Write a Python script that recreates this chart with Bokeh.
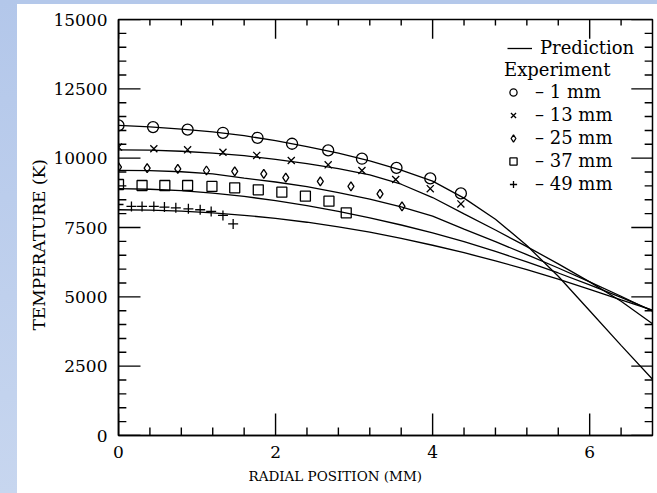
from bokeh.plotting import figure
from bokeh.models import (Range1d, FixedTicker, Legend, LegendItem, Title, Div)
from bokeh.layouts import row, column
from bokeh.embed import file_html
from bokeh.resources import INLINE

# ---- data -------------------------------------------------------------
# predicted radial temperature profiles (K) at five axial stations
pred_x = [0.0, 0.4, 0.8, 1.2, 1.6, 2.0, 2.4, 2.8, 3.2, 3.6, 4.0, 4.4, 4.8,
          5.2, 5.6, 6.0, 6.4, 6.8]
pred_1mm = [11180, 11130, 11050, 10950, 10810, 10630, 10420, 10180, 9900,
            9570, 9170, 8560, 7800, 6850, 5740, 4500, 3250, 2030]
pred_13mm = [10300, 10290, 10250, 10185, 10090, 9960, 9800, 9620, 9400,
             9060, 8580, 7990, 7410, 6810, 6190, 5540, 4840, 4030]
pred_25mm = [9560, 9550, 9510, 9430, 9280, 9140, 8970, 8760, 8520, 8240,
             7910, 7440, 6990, 6520, 6040, 5540, 5020, 4480]
pred_37mm = [8900, 8880, 8830, 8740, 8620, 8470, 8290, 8080, 7850, 7590,
             7310, 6990, 6640, 6260, 5860, 5430, 4980, 4500]
pred_49mm = [8140, 8130, 8090, 8030, 7940, 7830, 7690, 7520, 7330, 7110,
             6860, 6590, 6300, 5980, 5640, 5270, 4890, 4520]

# measured temperatures
exp1_x = [0.0, 0.44, 0.88, 1.33, 1.77, 2.21, 2.67, 3.10, 3.54, 3.97, 4.36]
exp1_t = [11180, 11120, 11030, 10915, 10735, 10520, 10280, 9980, 9650, 9270,
          8730]
exp13_x = [0.0, 0.45, 0.88, 1.33, 1.76, 2.20, 2.67, 3.10, 3.53, 3.97, 4.36]
exp13_t = [10400, 10340, 10300, 10215, 10100, 9915, 9760, 9555, 9230, 8900,
           8350]
exp25_x = [0.0, 0.365, 0.755, 1.12, 1.48, 1.85, 2.13, 2.57, 2.96, 3.33, 3.61]
exp25_t = [9675, 9640, 9615, 9555, 9520, 9435, 9295, 9160, 8980, 8715, 8260]
exp37_x = [0.0, 0.30, 0.59, 0.88, 1.19, 1.48, 1.78, 2.08, 2.38, 2.68, 2.90]
exp37_t = [9050, 9015, 9015, 9015, 8980, 8930, 8860, 8775, 8630, 8450, 8030]
exp49_x = [0.0, 0.165, 0.30, 0.45, 0.585, 0.73, 0.89, 1.04, 1.18, 1.33, 1.46]
exp49_t = [8330, 8260, 8260, 8260, 8235, 8210, 8175, 8140, 8080, 7935, 7630]

x_major = [0, 2, 4, 6]
x_minor = [0.4, 0.8, 1.2, 1.6, 2.4, 2.8, 3.2, 3.6, 4.4, 4.8, 5.2, 5.6, 6.4]
y_major = [0, 2500, 5000, 7500, 10000, 12500, 15000]
y_minor = [v for v in range(0, 15001, 500) if v % 2500]

X_MAX, Y_MAX = 6.8, 15000
SERIF = "DejaVu Serif"

# ---- figure -----------------------------------------------------------
p = figure(width=640, height=489, x_range=Range1d(0, X_MAX),
           y_range=Range1d(0, Y_MAX), output_backend="svg",
           toolbar_location=None,
           min_border_left=101, min_border_right=5, min_border_top=15,
           min_border_bottom=58)
p.grid.grid_line_color = None
p.outline_line_color = "black"
p.outline_line_width = 1.5
p.background_fill_color = "white"
p.border_fill_color = "white"

for ax, ticks, minor in ((p.xaxis[0], x_major, x_minor),
                         (p.yaxis[0], y_major, y_minor)):
    ax.ticker = FixedTicker(ticks=ticks, minor_ticks=minor)
    ax.axis_line_color = "black"
    ax.axis_line_width = 1.5
    ax.major_tick_in = ax.major_tick_out = 0
    ax.minor_tick_in = ax.minor_tick_out = 0
    ax.major_label_text_font = SERIF
    ax.major_label_text_font_size = "17px"
    ax.major_label_text_color = "black"
p.xaxis[0].major_label_standoff = 10
p.yaxis[0].major_label_standoff = 11

# inward-pointing ticks on all four sides of the frame
# (lengths: x-direction in mm, y-direction in K)
tick_kw = dict(line_color="black", line_width=1.4)
dx_major, dx_minor, dx_major_r = 0.28, 0.10, 0.27
dy_major, dy_minor, dy_major_t, dy_minor_t = 790, 290, 690, 220
n_xm, n_xn = len(x_major), len(x_minor)
n_ym, n_yn = len(y_major), len(y_minor)
# bottom
p.segment(x_major, [0] * n_xm, x_major, [dy_major] * n_xm, **tick_kw)
p.segment(x_minor, [0] * n_xn, x_minor, [dy_minor] * n_xn, **tick_kw)
# top
p.segment(x_major, [Y_MAX] * n_xm, x_major, [Y_MAX - dy_major_t] * n_xm,
          **tick_kw)
p.segment(x_minor, [Y_MAX] * n_xn, x_minor, [Y_MAX - dy_minor_t] * n_xn,
          **tick_kw)
# left
p.segment([0] * n_ym, y_major, [dx_major] * n_ym, y_major, **tick_kw)
p.segment([0] * n_yn, y_minor, [dx_minor] * n_yn, y_minor, **tick_kw)
# right
p.segment([X_MAX] * n_ym, y_major, [X_MAX - dx_major_r] * n_ym, y_major,
          **tick_kw)
p.segment([X_MAX] * n_yn, y_minor, [X_MAX - dx_minor] * n_yn, y_minor,
          **tick_kw)

# axis titles
p.add_layout(Title(text="RADIAL POSITION (MM)", align="left", offset=130,
                   vertical_align="top",
                   text_font=SERIF, text_font_size="13.5px",
                   text_font_style="normal", text_color="black",
                   standoff=14), "below")
p.add_layout(Title(text="TEMPERATURE (K)", align="left", offset=105,
                   text_font=SERIF, text_font_size="17px",
                   text_font_style="normal", text_color="black",
                   standoff=4), "left")

# ---- prediction curves ------------------------------------------------
line_kw = dict(line_color="black", line_width=1.3)
pred_r = None
for ys in (pred_1mm, pred_13mm, pred_25mm, pred_37mm, pred_49mm):
    r = p.line(pred_x, ys, **line_kw)
    pred_r = pred_r or r

# ---- measurements -----------------------------------------------------
mk = dict(fill_color=None, line_color="black", line_width=1.3)
r1 = p.scatter(exp1_x, exp1_t, marker="circle", size=11, **mk)
r13 = p.scatter(exp13_x, exp13_t, marker="x", size=10, **mk)
r25 = p.scatter(exp25_x, exp25_t, marker="diamond", size=9, **mk)
r37 = p.scatter(exp37_x, exp37_t, marker="square", size=10, **mk)
r49 = p.scatter(exp49_x, exp49_t, marker="cross", size=10, **mk)

# ---- legends ----------------------------------------------------------
leg_kw = dict(label_text_font=SERIF, label_text_font_size="18px",
              label_text_color="black", border_line_color=None,
              background_fill_alpha=0, padding=0, margin=0,
              label_height=20, glyph_height=20)

leg1 = Legend(items=[LegendItem(label="Prediction", renderers=[pred_r])],
              location=(389, 377), glyph_width=25, label_standoff=8,
              **leg_kw)
leg2 = Legend(items=[LegendItem(label="– 1 mm", renderers=[r1]),
                     LegendItem(label="– 13 mm", renderers=[r13]),
                     LegendItem(label="– 25 mm", renderers=[r25]),
                     LegendItem(label="– 37 mm", renderers=[r37]),
                     LegendItem(label="– 49 mm", renderers=[r49])],
              title="Experiment", title_text_font=SERIF,
              title_text_font_size="18px", title_text_font_style="normal",
              title_text_color="black", title_standoff=1,
              location=(386, 241), glyph_width=18, label_standoff=13,
              spacing=2, **leg_kw)
p.add_layout(leg1)
p.add_layout(leg2)

# ---- light blue page edge --------------------------------------------
edge = "linear-gradient(#b3c7ea, #c7d6ef)"
left_strip = Div(width=17, height=493, margin=0,
                 styles={"background": edge})
top_strip = Div(width=640, height=4, margin=0,
                styles={"background": "#b4c8ea"})
layout = row(left_strip, column(top_strip, p, spacing=0), spacing=0)

open("out.html", "w").write(file_html(layout, INLINE))
